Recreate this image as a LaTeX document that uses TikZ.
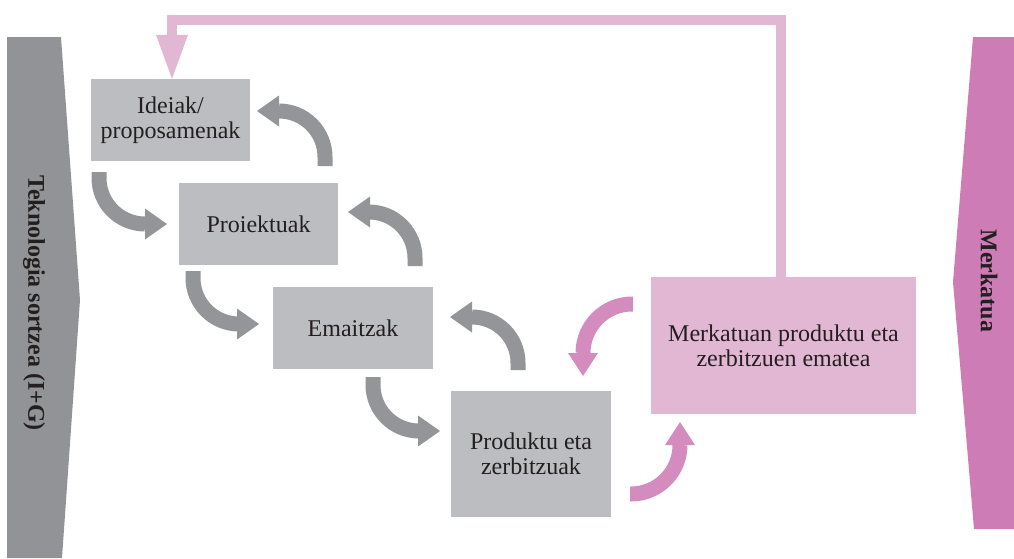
\documentclass[tikz,border=0pt]{standalone}
\usepackage{fontspec}
\setmainfont{Liberation Serif}
\usetikzlibrary{arrows.meta}
\definecolor{boxgray}{HTML}{BCBDC0}
\definecolor{arrgray}{HTML}{939598}
\definecolor{bargray}{HTML}{929396}
\definecolor{lightpink}{HTML}{E2B7D4}
\definecolor{midpink}{HTML}{D48CBE}
\definecolor{barpink}{HTML}{CE7CB5}
\definecolor{txt}{HTML}{231F20}
\tikzset{
  gbox/.style={fill=boxgray, inner sep=0pt, align=center, text=txt,
    font=\fontsize{24}{25}\selectfont},
  pbox/.style={gbox, fill=lightpink},
  garrow/.style={draw=arrgray, line width=15pt, rounded corners=46pt,
    -{Triangle[length=22pt,width=31pt,line width=0pt]}},
  parrow/.style={draw=midpink, line width=15pt, rounded corners=49pt,
    -{Triangle[length=23pt,width=30pt,line width=0pt]}},
  fback/.style={draw=lightpink, line width=10pt, line join=miter,
    -{Triangle[length=44pt,width=32pt,line width=0pt]}},
  bartext/.style={text=txt, font=\fontsize{24}{25}\selectfont\bfseries, rotate=-90}
}
\begin{document}
\begin{tikzpicture}[x=1pt,y=-1pt]
\useasboundingbox (0,0) rectangle (1014,558);
% side bars
\fill[bargray] (7,37) -- (61,37) -- (80,300) -- (62,558) -- (7,558) -- cycle;
\node[bartext] (lbar) at (34,303) {Teknologia sortzea (I+G)};
\fill[barpink] (973,37) -- (1014,37) -- (1014,529) -- (974,529) -- (953,282) -- cycle;
\node[bartext] (rbar) at (989,281) {Merkatua};
% boxes
\node[gbox, minimum width=159pt, minimum height=82pt] (ide) at (170.5,120) {Ideiak/\\proposamenak};
\node[gbox, minimum width=159pt, minimum height=82pt] (pro) at (258.5,224) {Proiektuak};
\node[gbox, minimum width=160pt, minimum height=82pt] (ema) at (353,328) {Emaitzak};
\node[gbox, minimum width=160pt, minimum height=126pt] (prd) at (531,454) {Produktu eta\\zerbitzuak};
\node[pbox, minimum width=265pt, minimum height=137pt] (mer) at (783.5,345.5) {Merkatuan produktu eta\\zerbitzuen ematea};
% arrow end points
\coordinate (d1s) at (99,172);  \coordinate (d1e) at (167,224);
\coordinate (u1s) at (325,166); \coordinate (u1e) at (257,111);
\coordinate (d2s) at (193,271); \coordinate (d2e) at (259,324);
\coordinate (u2s) at (415,266); \coordinate (u2e) at (348,212);
\coordinate (d3s) at (373,377); \coordinate (d3e) at (440,431);
\coordinate (u3s) at (518,370); \coordinate (u3e) at (450,317);
\coordinate (p1s) at (630,494); \coordinate (p1e) at (680,422);
\coordinate (p2s) at (633,304); \coordinate (p2e) at (583,376);
% gray arrows
\draw[garrow] (d1s) |- (d1e);
\draw[garrow] (u1s) |- (u1e);
\draw[garrow] (d2s) |- (d2e);
\draw[garrow] (u2s) |- (u2e);
\draw[garrow] (d3s) |- (d3e);
\draw[garrow] (u3s) |- (u3e);
% pink arrows
\draw[parrow] (p1s) -| (p1e);
\draw[parrow] (p2s) -| (p2e);
% feedback
\coordinate (fbc) at (172,20);
\draw[fback] ([xshift=-2.5pt]mer.north) |- (fbc) -- ([xshift=1.5pt]ide.north);
\end{tikzpicture}
\end{document}
